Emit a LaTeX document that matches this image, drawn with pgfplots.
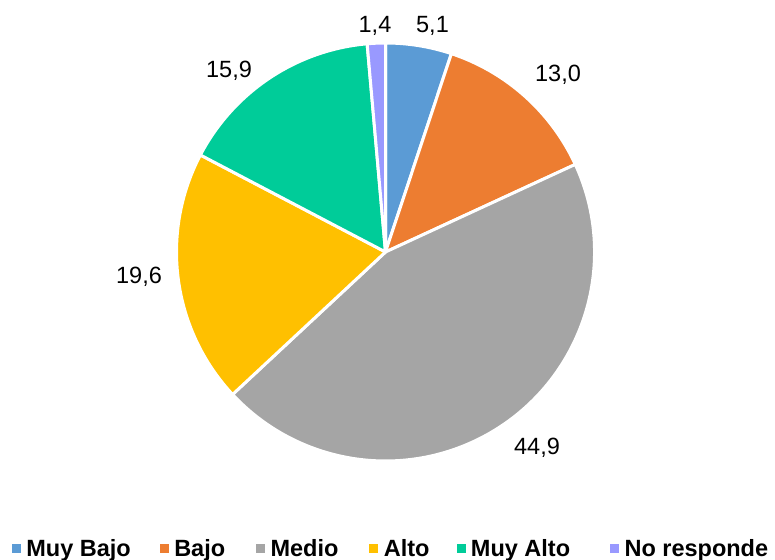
\documentclass[border=0pt]{standalone}
\usepackage{fontspec}
\setmainfont{Liberation Sans}
\usepackage{pgfplots}
\usepackage{pgfplotstable}
\pgfplotsset{compat=1.18}
\definecolor{cMB}{HTML}{5B9BD5}
\definecolor{cB}{HTML}{ED7D31}
\definecolor{cM}{HTML}{A5A5A5}
\definecolor{cA}{HTML}{FFC000}
\definecolor{cMA}{HTML}{00CC99}
\definecolor{cNR}{HTML}{9999FF}
\pgfplotstableread{
label value color
{Muy Bajo} 5.1 cMB
Bajo 13.0 cB
Medio 44.9 cM
Alto 19.6 cA
{Muy Alto} 15.9 cMA
{No responde} 1.4 cNR
}\piedata
\begin{document}
\begin{tikzpicture}
\begin{axis}[
  scale only axis, width=775pt, height=559pt,
  xmin=0, xmax=775, ymin=0, ymax=559,
  hide axis, clip=false,
  legend columns=6,
  legend image code/.code={\fill[#1] (0pt,-2.5pt) rectangle (8pt,5.5pt);},
  legend style={at={(axis cs:12,-2)}, anchor=south west, draw=none, fill=none,
    inner sep=0pt, outer sep=0pt,
    font=\bfseries\fontsize{23.5}{28}\selectfont,
    nodes={inner sep=0pt, text height=17pt, text depth=5pt},
    /tikz/every odd column/.append style={column sep=6pt},
    /tikz/column 2/.append style={column sep=29pt},
    /tikz/column 4/.append style={column sep=31pt},
    /tikz/column 6/.append style={column sep=31pt},
    /tikz/column 8/.append style={column sep=27pt},
    /tikz/column 10/.append style={column sep=40pt}},
  legend cell align=left,
]
\def\total{0}
\pgfplotsforeachungrouped \i in {0,...,5} {%
  \pgfplotstablegetelem{\i}{value}\of\piedata
  \pgfmathsetmacro\total{\total+\pgfplotsretval}%
}
\def\startang{90}
\pgfplotsforeachungrouped \i in {0,...,5} {%
  \pgfplotstablegetelem{\i}{value}\of\piedata \let\v\pgfplotsretval
  \pgfplotstablegetelem{\i}{color}\of\piedata \let\c\pgfplotsretval
  \pgfmathsetmacro\endang{\startang-360*\v/\total}%
  \edef\cmd{\noexpand\filldraw[fill=\c, draw=white, line width=3pt, line join=round]
    (axis cs:385.5,307) -- ++(\startang:209pt)
    arc[start angle=\startang, end angle=\endang, radius=209pt] -- cycle;}%
  \cmd
  \global\let\startang\endang
  \edef\cmd{\noexpand\addlegendimage{\c}}\cmd
}
\addlegendentry{Muy Bajo}
\addlegendentry{Bajo}
\addlegendentry{Medio}
\addlegendentry{Alto}
\addlegendentry{Muy Alto}
\addlegendentry{No responde}
\begin{scope}[every node/.style={font=\fontsize{23.5}{28}\selectfont, anchor=base, inner sep=0pt}]
\node at (axis cs:375,526) {1,4};
\node at (axis cs:432.5,526) {5,1};
\node at (axis cs:558,477) {13,0};
\node at (axis cs:537,104) {44,9};
\node at (axis cs:139,275) {19,6};
\node at (axis cs:229,481) {15,9};
\end{scope}
\end{axis}
\pgfresetboundingbox
\path[use as bounding box] (0,0) rectangle (775pt,559pt);
\end{tikzpicture}
\end{document}
